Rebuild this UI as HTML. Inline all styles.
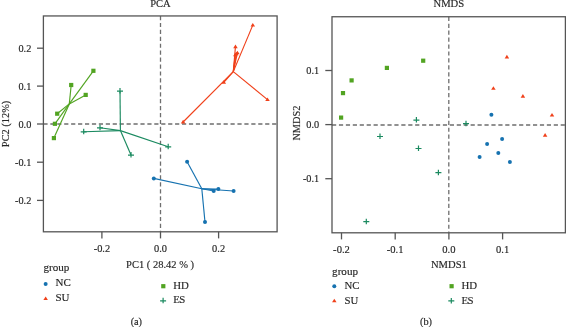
<!DOCTYPE html>
<html><head><meta charset="utf-8"><title>PCA and NMDS</title>
<style>
html,body{margin:0;padding:0;background:#fff;}
body{width:566px;height:327px;overflow:hidden;}
svg{display:block;filter:blur(0.3px);}
svg text{font-family:"Liberation Serif", serif;fill:#262626;stroke:#262626;stroke-width:0.15px;}
</style></head>
<body>
<svg width="566" height="327" viewBox="0 0 566 327">
<line x1="43.4" y1="124" x2="277.1" y2="124" stroke="#6e6e6e" stroke-width="1.3" stroke-dasharray="4.2 2.73"/>
<line x1="160.5" y1="15.95" x2="160.5" y2="231.8" stroke="#6e6e6e" stroke-width="1.3" stroke-dasharray="4.2 2.73"/>
<line x1="69.30" y1="103.90" x2="93.40" y2="70.80" stroke="#52a422" stroke-width="1.15"/>
<line x1="69.30" y1="103.90" x2="71.20" y2="85.00" stroke="#52a422" stroke-width="1.15"/>
<line x1="69.30" y1="103.90" x2="85.70" y2="94.90" stroke="#52a422" stroke-width="1.15"/>
<line x1="69.30" y1="103.90" x2="57.20" y2="113.70" stroke="#52a422" stroke-width="1.15"/>
<line x1="69.30" y1="103.90" x2="54.90" y2="123.80" stroke="#52a422" stroke-width="1.15"/>
<line x1="69.30" y1="103.90" x2="53.90" y2="138.10" stroke="#52a422" stroke-width="1.15"/>
<rect x="91.30" y="68.70" width="4.2" height="4.2" fill="#52a422"/>
<rect x="69.10" y="82.90" width="4.2" height="4.2" fill="#52a422"/>
<rect x="83.60" y="92.80" width="4.2" height="4.2" fill="#52a422"/>
<rect x="55.10" y="111.60" width="4.2" height="4.2" fill="#52a422"/>
<rect x="52.80" y="121.70" width="4.2" height="4.2" fill="#52a422"/>
<rect x="51.80" y="136.00" width="4.2" height="4.2" fill="#52a422"/>
<line x1="120.40" y1="130.60" x2="120.00" y2="91.10" stroke="#1b8a60" stroke-width="1.15"/>
<line x1="120.40" y1="130.60" x2="100.00" y2="127.80" stroke="#1b8a60" stroke-width="1.15"/>
<line x1="120.40" y1="130.60" x2="83.70" y2="131.80" stroke="#1b8a60" stroke-width="1.15"/>
<line x1="120.40" y1="130.60" x2="131.00" y2="155.10" stroke="#1b8a60" stroke-width="1.15"/>
<line x1="120.40" y1="130.60" x2="168.20" y2="146.80" stroke="#1b8a60" stroke-width="1.15"/>
<path d="M117.00 91.10H123.00M120.00 88.10V93.60" stroke="#1b8a60" stroke-width="1.2" fill="none"/>
<path d="M97.00 127.80H103.00M100.00 124.80V130.30" stroke="#1b8a60" stroke-width="1.2" fill="none"/>
<path d="M80.70 131.80H86.70M83.70 128.80V134.30" stroke="#1b8a60" stroke-width="1.2" fill="none"/>
<path d="M128.00 155.10H134.00M131.00 152.10V157.60" stroke="#1b8a60" stroke-width="1.2" fill="none"/>
<path d="M165.20 146.80H171.20M168.20 143.80V149.30" stroke="#1b8a60" stroke-width="1.2" fill="none"/>
<line x1="201.80" y1="188.80" x2="187.10" y2="161.80" stroke="#1672b0" stroke-width="1.15"/>
<line x1="201.80" y1="188.80" x2="153.80" y2="178.40" stroke="#1672b0" stroke-width="1.15"/>
<line x1="201.80" y1="188.80" x2="213.70" y2="191.00" stroke="#1672b0" stroke-width="1.15"/>
<line x1="201.80" y1="188.80" x2="218.40" y2="189.10" stroke="#1672b0" stroke-width="1.15"/>
<line x1="201.80" y1="188.80" x2="233.60" y2="191.00" stroke="#1672b0" stroke-width="1.15"/>
<line x1="201.80" y1="188.80" x2="205.00" y2="222.00" stroke="#1672b0" stroke-width="1.15"/>
<circle cx="187.10" cy="161.80" r="2.0" fill="#1672b0"/>
<circle cx="153.80" cy="178.40" r="2.0" fill="#1672b0"/>
<circle cx="213.70" cy="191.00" r="2.0" fill="#1672b0"/>
<circle cx="218.40" cy="189.10" r="2.0" fill="#1672b0"/>
<circle cx="233.60" cy="191.00" r="2.0" fill="#1672b0"/>
<circle cx="205.00" cy="222.00" r="2.0" fill="#1672b0"/>
<line x1="233.30" y1="71.60" x2="252.80" y2="25.10" stroke="#f0401a" stroke-width="1.15"/>
<line x1="233.30" y1="71.60" x2="235.45" y2="46.70" stroke="#f0401a" stroke-width="1.15"/>
<line x1="233.30" y1="71.60" x2="237.40" y2="52.80" stroke="#f0401a" stroke-width="1.15"/>
<line x1="233.30" y1="71.60" x2="235.30" y2="54.80" stroke="#f0401a" stroke-width="1.15"/>
<line x1="233.30" y1="71.60" x2="236.30" y2="53.90" stroke="#f0401a" stroke-width="1.15"/>
<line x1="233.30" y1="71.60" x2="223.80" y2="82.30" stroke="#f0401a" stroke-width="1.15"/>
<line x1="233.30" y1="71.60" x2="267.50" y2="99.60" stroke="#f0401a" stroke-width="1.15"/>
<line x1="233.30" y1="71.60" x2="183.10" y2="122.00" stroke="#f0401a" stroke-width="1.15"/>
<path d="M252.80 22.94L255.05 26.54L250.55 26.54Z" fill="#f0401a"/>
<path d="M235.45 44.54L237.70 48.14L233.20 48.14Z" fill="#f0401a"/>
<path d="M237.40 50.64L239.65 54.24L235.15 54.24Z" fill="#f0401a"/>
<path d="M235.30 52.64L237.55 56.24L233.05 56.24Z" fill="#f0401a"/>
<path d="M236.30 51.74L238.55 55.34L234.05 55.34Z" fill="#f0401a"/>
<path d="M223.80 80.14L226.05 83.74L221.55 83.74Z" fill="#f0401a"/>
<path d="M267.50 97.44L269.75 101.04L265.25 101.04Z" fill="#f0401a"/>
<path d="M183.10 119.84L185.35 123.44L180.85 123.44Z" fill="#f0401a"/>
<rect x="43.4" y="15.95" width="233.70" height="215.85" fill="none" stroke="#555555" stroke-width="1.3"/>
<line x1="37.00" y1="48.20" x2="43.40" y2="48.20" stroke="#555555" stroke-width="1.3"/>
<text x="31.3" y="51.800000000000004" font-size="10.3" text-anchor="end" >0.2</text>
<line x1="37.00" y1="86.10" x2="43.40" y2="86.10" stroke="#555555" stroke-width="1.3"/>
<text x="31.3" y="89.69999999999999" font-size="10.3" text-anchor="end" >0.1</text>
<line x1="37.00" y1="124.00" x2="43.40" y2="124.00" stroke="#555555" stroke-width="1.3"/>
<text x="31.3" y="127.6" font-size="10.3" text-anchor="end" >0.0</text>
<line x1="37.00" y1="162.20" x2="43.40" y2="162.20" stroke="#555555" stroke-width="1.3"/>
<text x="31.3" y="165.79999999999998" font-size="10.3" text-anchor="end" >-0.1</text>
<line x1="37.00" y1="200.40" x2="43.40" y2="200.40" stroke="#555555" stroke-width="1.3"/>
<text x="31.3" y="204.0" font-size="10.3" text-anchor="end" >-0.2</text>
<line x1="101.90" y1="231.80" x2="101.90" y2="238.40" stroke="#555555" stroke-width="1.3"/>
<text x="101.9" y="252" font-size="10.4" text-anchor="middle" >-0.2</text>
<line x1="160.50" y1="231.80" x2="160.50" y2="238.40" stroke="#555555" stroke-width="1.3"/>
<text x="160.5" y="252" font-size="10.4" text-anchor="middle" >0.0</text>
<line x1="218.60" y1="231.80" x2="218.60" y2="238.40" stroke="#555555" stroke-width="1.3"/>
<text x="218.6" y="252" font-size="10.4" text-anchor="middle" >0.2</text>
<text x="160.4" y="7.3" font-size="10.5" text-anchor="middle" >PCA</text>
<text x="160.1" y="267.8" font-size="10.5" text-anchor="middle" >PC1 ( 28.42 % )</text>
<text x="9.0" y="123.9" font-size="10.4" text-anchor="middle" transform="rotate(-90 9.0 123.9)">PC2 (12%)</text>
<text x="43.5" y="271.0" font-size="11.1" text-anchor="start" >group</text>
<circle cx="45.65" cy="284.10" r="2.0" fill="#1672b0"/>
<text x="55.5" y="286.3" font-size="11" text-anchor="start" >NC</text>
<path d="M45.65 296.44L47.90 300.04L43.40 300.04Z" fill="#f0401a"/>
<text x="55.5" y="300.6" font-size="11" text-anchor="start" >SU</text>
<rect x="161.20" y="284.10" width="4.2" height="4.2" fill="#52a422"/>
<text x="173.3" y="288.5" font-size="10.8" text-anchor="start" >HD</text>
<path d="M160.10 300.80H166.10M163.10 297.80V303.30" stroke="#1b8a60" stroke-width="1.2" fill="none"/>
<text x="173.3" y="303.2" font-size="10.8" text-anchor="start" letter-spacing="-0.6">ES</text>
<text x="136.35" y="324.8" font-size="10.3" text-anchor="middle" >(a)</text>
<line x1="332.0" y1="125.0" x2="565.4" y2="125.0" stroke="#6e6e6e" stroke-width="1.3" stroke-dasharray="4.2 2.73"/>
<line x1="448.8" y1="16.75" x2="448.8" y2="232.8" stroke="#6e6e6e" stroke-width="1.3" stroke-dasharray="4.2 2.73"/>
<rect x="339.00" y="115.50" width="4.2" height="4.2" fill="#52a422"/>
<rect x="340.90" y="91.00" width="4.2" height="4.2" fill="#52a422"/>
<rect x="349.50" y="78.30" width="4.2" height="4.2" fill="#52a422"/>
<rect x="384.80" y="65.80" width="4.2" height="4.2" fill="#52a422"/>
<rect x="421.10" y="58.60" width="4.2" height="4.2" fill="#52a422"/>
<path d="M413.40 120.10H419.40M416.40 117.10V122.60" stroke="#1b8a60" stroke-width="1.2" fill="none"/>
<path d="M463.00 123.70H469.00M466.00 120.70V126.20" stroke="#1b8a60" stroke-width="1.2" fill="none"/>
<path d="M377.00 136.50H383.00M380.00 133.50V139.00" stroke="#1b8a60" stroke-width="1.2" fill="none"/>
<path d="M415.50 148.50H421.50M418.50 145.50V151.00" stroke="#1b8a60" stroke-width="1.2" fill="none"/>
<path d="M435.40 172.70H441.40M438.40 169.70V175.20" stroke="#1b8a60" stroke-width="1.2" fill="none"/>
<path d="M363.30 221.70H369.30M366.30 218.70V224.20" stroke="#1b8a60" stroke-width="1.2" fill="none"/>
<circle cx="491.40" cy="114.80" r="2.0" fill="#1672b0"/>
<circle cx="502.10" cy="139.00" r="2.0" fill="#1672b0"/>
<circle cx="487.10" cy="144.10" r="2.0" fill="#1672b0"/>
<circle cx="498.30" cy="153.10" r="2.0" fill="#1672b0"/>
<circle cx="479.60" cy="157.00" r="2.0" fill="#1672b0"/>
<circle cx="509.90" cy="161.90" r="2.0" fill="#1672b0"/>
<path d="M506.90 54.84L509.15 58.44L504.65 58.44Z" fill="#f0401a"/>
<path d="M493.40 86.24L495.65 89.84L491.15 89.84Z" fill="#f0401a"/>
<path d="M522.90 94.04L525.15 97.64L520.65 97.64Z" fill="#f0401a"/>
<path d="M552.00 112.94L554.25 116.54L549.75 116.54Z" fill="#f0401a"/>
<path d="M545.10 133.04L547.35 136.64L542.85 136.64Z" fill="#f0401a"/>
<rect x="332.0" y="16.75" width="233.40" height="216.05" fill="none" stroke="#555555" stroke-width="1.3"/>
<line x1="325.30" y1="70.50" x2="332.00" y2="70.50" stroke="#555555" stroke-width="1.3"/>
<text x="319.2" y="73.7" font-size="10.3" text-anchor="end" >0.1</text>
<line x1="325.30" y1="124.60" x2="332.00" y2="124.60" stroke="#555555" stroke-width="1.3"/>
<text x="319.2" y="127.8" font-size="10.3" text-anchor="end" >0.0</text>
<line x1="325.30" y1="178.70" x2="332.00" y2="178.70" stroke="#555555" stroke-width="1.3"/>
<text x="319.2" y="181.89999999999998" font-size="10.3" text-anchor="end" >-0.1</text>
<line x1="341.50" y1="232.80" x2="341.50" y2="239.40" stroke="#555555" stroke-width="1.3"/>
<text x="341.5" y="253" font-size="10.6" text-anchor="middle" >-0.2</text>
<line x1="395.20" y1="232.80" x2="395.20" y2="239.40" stroke="#555555" stroke-width="1.3"/>
<text x="395.2" y="253" font-size="10.6" text-anchor="middle" >-0.1</text>
<line x1="448.90" y1="232.80" x2="448.90" y2="239.40" stroke="#555555" stroke-width="1.3"/>
<text x="448.9" y="253" font-size="10.6" text-anchor="middle" >0.0</text>
<line x1="502.60" y1="232.80" x2="502.60" y2="239.40" stroke="#555555" stroke-width="1.3"/>
<text x="502.6" y="253" font-size="10.6" text-anchor="middle" >0.1</text>
<text x="448.85" y="7.2" font-size="10.6" text-anchor="middle" >NMDS</text>
<text x="448.9" y="267.5" font-size="10.6" text-anchor="middle" >NMDS1</text>
<text x="300.4" y="123.1" font-size="10.3" text-anchor="middle" transform="rotate(-90 300.4 123.1)">NMDS2</text>
<text x="332.1" y="275.2" font-size="11.1" text-anchor="start" >group</text>
<circle cx="334.30" cy="286.30" r="2.0" fill="#1672b0"/>
<text x="344.4" y="289.2" font-size="10.8" text-anchor="start" >NC</text>
<path d="M334.30 298.64L336.55 302.24L332.05 302.24Z" fill="#f0401a"/>
<text x="344.4" y="303.8" font-size="10.8" text-anchor="start" >SU</text>
<rect x="449.50" y="284.10" width="4.2" height="4.2" fill="#52a422"/>
<text x="461.4" y="288.9" font-size="10.8" text-anchor="start" >HD</text>
<path d="M448.30 300.90H454.30M451.30 297.90V303.40" stroke="#1b8a60" stroke-width="1.2" fill="none"/>
<text x="461.4" y="303.5" font-size="10.8" text-anchor="start" letter-spacing="-0.5">ES</text>
<text x="426.0" y="324.8" font-size="10.3" text-anchor="middle" >(b)</text>
</svg>
</body></html>
